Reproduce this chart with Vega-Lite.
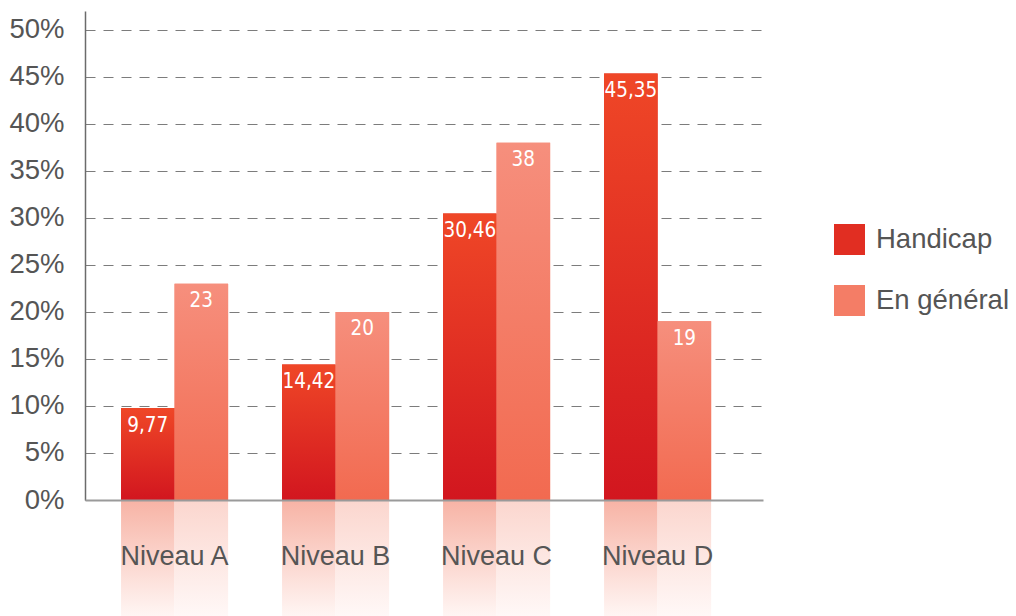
{
  "$schema": "https://vega.github.io/schema/vega-lite/v6.json",
  "width": 678,
  "height": 489,
  "autosize": {"type": "none"},
  "padding": {"left": 85, "top": 11, "right": 253, "bottom": 116},
  "background": "#ffffff",
  "config": {
    "view": {"stroke": null},
    "font": "Liberation Sans",
    "locale": {"number": {"decimal": ",", "thousands": " ", "grouping": [3], "currency": ["", " €"]}}
  },
  "data": {
    "values": [
      {"niveau": "Niveau A", "series": "Handicap", "value": 9.77},
      {"niveau": "Niveau A", "series": "En général", "value": 23},
      {"niveau": "Niveau B", "series": "Handicap", "value": 14.42},
      {"niveau": "Niveau B", "series": "En général", "value": 20},
      {"niveau": "Niveau C", "series": "Handicap", "value": 30.46},
      {"niveau": "Niveau C", "series": "En général", "value": 38},
      {"niveau": "Niveau D", "series": "Handicap", "value": 45.35},
      {"niveau": "Niveau D", "series": "En général", "value": 19}
    ]
  },
  "encoding": {
    "x": {
      "field": "niveau",
      "type": "nominal",
      "sort": ["Niveau A", "Niveau B", "Niveau C", "Niveau D"],
      "scale": {"paddingInner": 0.335, "paddingOuter": 0.273, "align": 0.41},
      "axis": {
        "title": null,
        "labelAngle": 0,
        "ticks": false,
        "grid": false,
        "domainColor": "#9a9a9a",
        "domainWidth": 2,
        "labelFontSize": 27,
        "labelColor": "#555555",
        "labelFont": "Liberation Sans",
        "labelPadding": 43,
        "zindex": 1
      }
    },
    "xOffset": {
      "field": "series",
      "type": "nominal",
      "sort": ["Handicap", "En général"],
      "scale": {"domain": ["Handicap", "En général"], "paddingInner": 0, "paddingOuter": 0}
    }
  },
  "layer": [
    {
      "mark": {"type": "bar"},
      "encoding": {
        "y": {
          "field": "value",
          "type": "quantitative",
          "scale": {"domain": [0, 52], "nice": false, "zero": false},
          "axis": {
            "title": null,
            "values": [0, 5, 10, 15, 20, 25, 30, 35, 40, 45, 50],
            "labelExpr": "datum.value + '%'",
            "ticks": false,
            "grid": true,
            "gridDash": [10, 8],
            "gridColor": "#7c7c7c",
            "gridWidth": 1.2,
            "domainColor": "#6b6b6b",
            "domainWidth": 1.5,
            "labelFontSize": 27.5,
            "labelColor": "#555555",
            "labelFont": "Liberation Sans",
            "labelPadding": 21
          }
        },
        "color": {
          "field": "series",
          "type": "nominal",
          "scale": {"domain": ["Handicap", "En général"], "range": ["#E12E22", "#F47D66"]},
          "legend": {
            "title": null,
            "orient": "none",
            "legendX": 749,
            "legendY": 213,
            "symbolType": "square",
            "symbolSize": 961,
            "symbolStrokeWidth": 0,
            "labelFontSize": 27.5,
            "labelColor": "#555555",
            "labelFont": "Liberation Sans",
            "labelOffset": 11,
            "rowPadding": 30,
            "padding": 0,
            "encode": {
              "symbols": {
                "enter": {
                  "fill": {"signal": "datum.value === 'Handicap' ? {gradient: 'linear', x1: 0, y1: 0, x2: 0, y2: 1, stops: [{offset: 0, color: '#EF4727'}, {offset: 1, color: '#D3161F'}]} : {gradient: 'linear', x1: 0, y1: 0, x2: 0, y2: 1, stops: [{offset: 0, color: '#F68F7D'}, {offset: 1, color: '#F26B51'}]}"}
                },
                "update": {
                  "fill": {"signal": "datum.value === 'Handicap' ? {gradient: 'linear', x1: 0, y1: 0, x2: 0, y2: 1, stops: [{offset: 0, color: '#EF4727'}, {offset: 1, color: '#D3161F'}]} : {gradient: 'linear', x1: 0, y1: 0, x2: 0, y2: 1, stops: [{offset: 0, color: '#F68F7D'}, {offset: 1, color: '#F26B51'}]}"}
                }
              }
            }
          }
        }
      }
    },
    {
      "transform": [{"filter": "datum.series === 'Handicap'"}],
      "mark": {
        "type": "bar",
        "color": {"gradient": "linear", "x1": 0, "y1": 0, "x2": 0, "y2": 1, "stops": [{"offset": 0, "color": "#EF4727"}, {"offset": 1, "color": "#D2161F"}]}
      },
      "encoding": {"y": {"field": "value", "type": "quantitative"}}
    },
    {
      "transform": [{"filter": "datum.series === 'En général'"}],
      "mark": {
        "type": "bar",
        "color": {"gradient": "linear", "x1": 0, "y1": 0, "x2": 0, "y2": 1, "stops": [{"offset": 0, "color": "#F68F7D"}, {"offset": 1, "color": "#F26A50"}]}
      },
      "encoding": {"y": {"field": "value", "type": "quantitative"}}
    },
    {
      "transform": [{"filter": "datum.series === 'Handicap'"}],
      "mark": {
        "type": "bar",
        "color": {"gradient": "linear", "x1": 0, "y1": 0, "x2": 0, "y2": 1, "stops": [{"offset": 0, "color": "#F7B3A5"}, {"offset": 1, "color": "#FFF6F4"}]}
      },
      "encoding": {
        "y": {"datum": 0, "type": "quantitative"},
        "y2": {"datum": -12.4}
      }
    },
    {
      "transform": [{"filter": "datum.series === 'En général'"}],
      "mark": {
        "type": "bar",
        "color": {"gradient": "linear", "x1": 0, "y1": 0, "x2": 0, "y2": 1, "stops": [{"offset": 0, "color": "#FBD6CE"}, {"offset": 1, "color": "#FFF8F7"}]}
      },
      "encoding": {
        "y": {"datum": 0, "type": "quantitative"},
        "y2": {"datum": -12.4}
      }
    },
    {
      "mark": {
        "type": "text",
        "color": "#ffffff",
        "font": "DejaVu Sans Condensed, Roboto, Liberation Sans",
        "fontSize": 20.5,
        "baseline": "middle",
        "align": "center",
        "dy": 17.5
      },
      "encoding": {
        "y": {"field": "value", "type": "quantitative"},
        "text": {"field": "value", "type": "quantitative", "format": ".2~f"}
      }
    }
  ]
}
